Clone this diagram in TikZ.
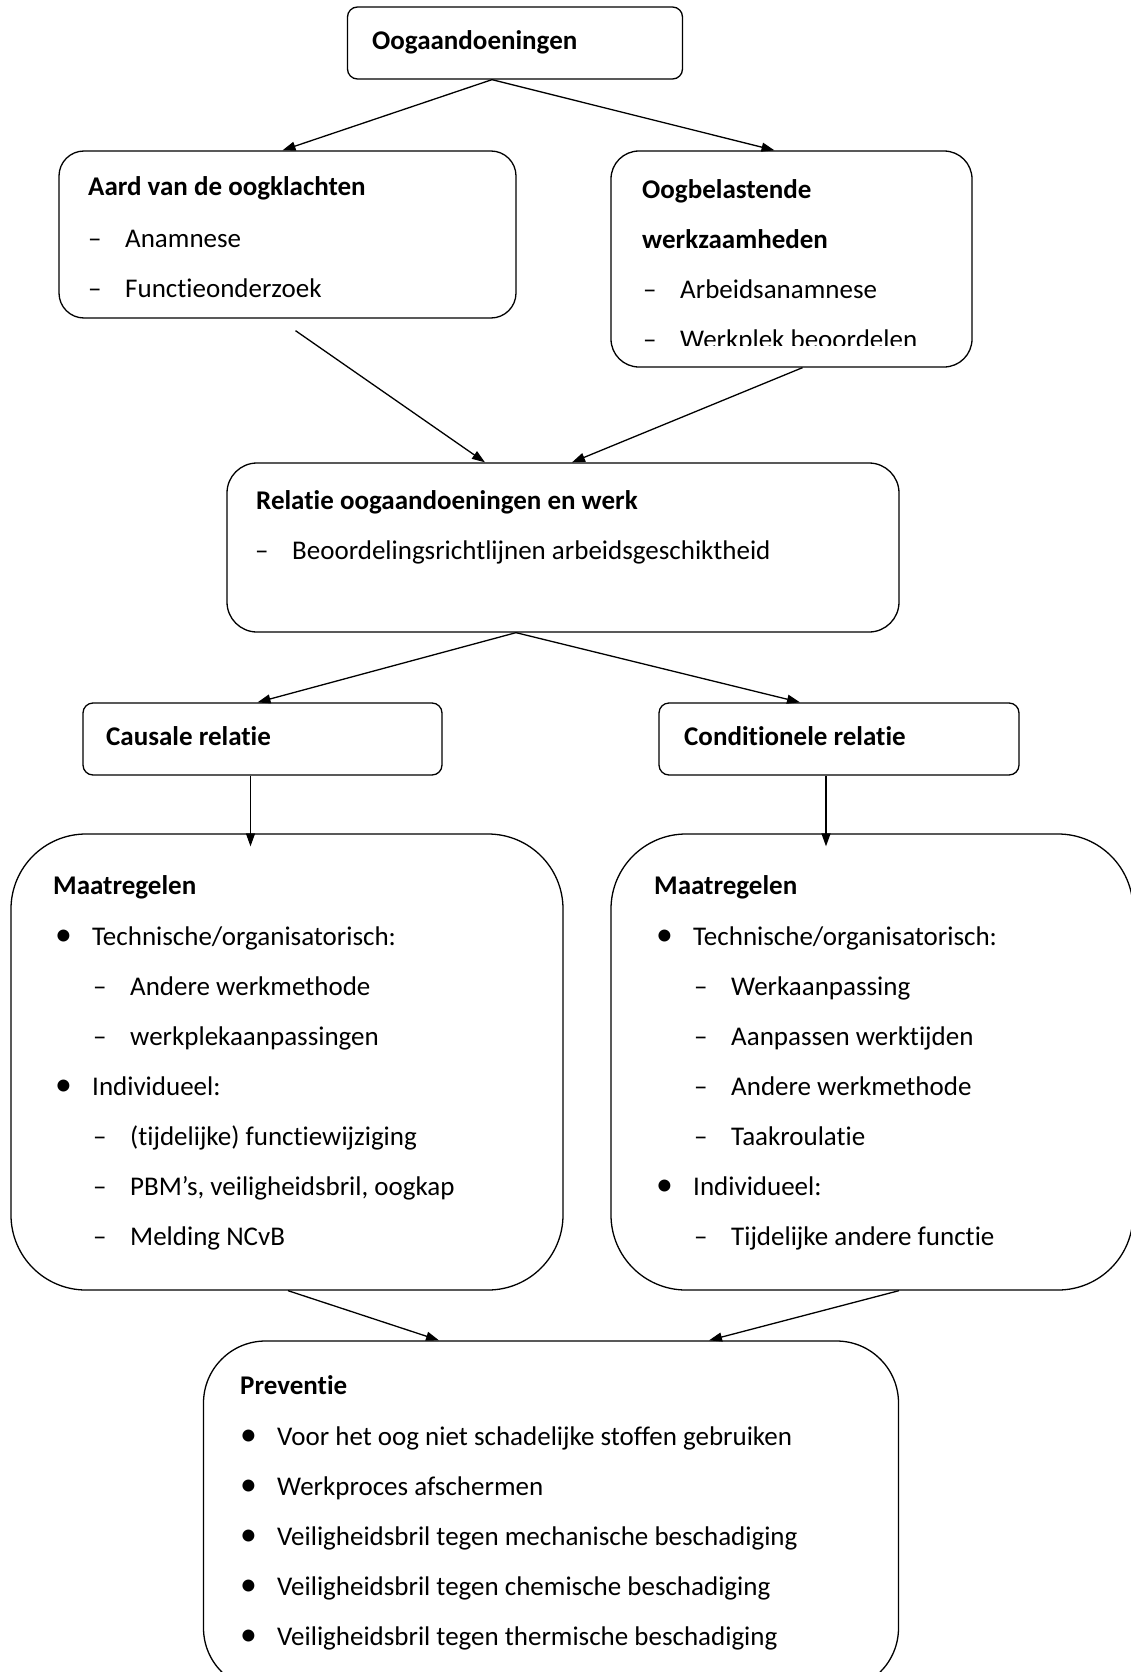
\documentclass[tikz,border=0pt]{standalone}
\usepackage{fontspec}
\setmainfont{Carlito}[Ligatures={NoCommon,NoRare}]
\usepackage{tikz}
\usetikzlibrary{arrows.meta}

\newcommand{\dashit}{\makebox[37pt][l]{–}}
\newcommand{\bulit}{\makebox[37pt][l]{\scalebox{1.25}{\textbullet}}}

\begin{document}
\begin{tikzpicture}[x=1pt,y=1pt]
    \tikzset{box/.style={draw, rounded corners=#1, inner sep=0pt, line width=1.3pt}, box/.default=10pt}
    \tikzset{txt/.style={anchor=base west, inner sep=0pt, font=\fontsize{27}{32}\selectfont}}
    \tikzset{head/.style={txt, font=\fontsize{27}{32}\selectfont\bfseries}}
    \tikzset{pijl/.style={line width=1.3pt, -{Triangle[length=13pt,width=9pt]}}}
    %\tikzset{every node/.style={draw=red}}
    \useasboundingbox (0,0) rectangle (1130,-1672);

    % boxes
    \node[box, minimum width=335pt, minimum height=72pt] (oog) at (515,-43) {};
    \node[box=25pt, minimum width=457pt, minimum height=167pt] (aard) at (287.5,-234.5) {};
    \node[box=28pt, minimum width=361pt, minimum height=216pt] (bel) at (791.5,-259) {};
    \node[box=30pt, minimum width=672pt, minimum height=169pt] (rel) at (563,-547.5) {};
    \node[box, minimum width=359pt, minimum height=72pt] (caus) at (262.5,-739) {};
    \node[box, minimum width=360pt, minimum height=72pt] (cond) at (839,-739) {};
    \node[box=75pt, minimum width=552pt, minimum height=456pt] (maatl) at (287,-1062) {};
    \node[box=75pt, minimum width=522pt, minimum height=456pt] (maatr) at (872,-1062) {};
    \node[box=62pt, minimum width=695pt, minimum height=349pt] (prev) at (551,-1515.5) {};

    % texts
    \node[head] (oogt) at (372,-50) {Oogaandoeningen};

    \node[head] (aardt) at (88,-196) {Aard van de oogklachten};
    \node[txt] (aard1) at (88,-247) {\dashit Anamnese};
    \node[txt] (aard2) at (88,-297) {\dashit Functieonderzoek};

    \node[head] (belt) at (642,-199) {Oogbelastende};
    \node[head] (belt2) at (642,-248) {werkzaamheden};
    \node[txt] (bel1) at (643,-298) {\dashit Arbeidsanamnese};
    \begin{scope}
        \clip (600,-300) rectangle (990,-345);
        \node[txt] (bel2) at (643,-348) {\dashit Werkplek beoordelen};
    \end{scope}

    \node[head] (relt) at (256,-509) {Relatie oogaandoeningen en werk};
    \node[txt] (rel1) at (255,-559) {\dashit Beoordelingsrichtlijnen arbeidsgeschiktheid};

    \node[head] (caust) at (106,-745) {Causale relatie};
    \node[head] (condt) at (684,-745) {Conditionele relatie};

    \node[head] (maatlt) at (53,-894) {Maatregelen};
    \node[txt] (maatl1) at (55,-945) {\bulit Technische/organisatorisch:};
    \node[txt] (maatl2) at (93,-995) {\dashit Andere werkmethode};
    \node[txt] (maatl3) at (93,-1045) {\dashit werkplekaanpassingen};
    \node[txt] (maatl4) at (55,-1095) {\bulit Individueel:};
    \node[txt] (maatl5) at (93,-1145) {\dashit (tijdelijke) functiewijziging};
    \node[txt] (maatl6) at (93,-1195) {\dashit PBM’s, veiligheidsbril, oogkap};
    \node[txt] (maatl7) at (93,-1245) {\dashit Melding NCvB};

    \node[head] (maatrt) at (654,-894) {Maatregelen};
    \node[txt] (maatr1) at (656,-945) {\bulit Technische/organisatorisch:};
    \node[txt] (maatr2) at (694,-995) {\dashit Werkaanpassing};
    \node[txt] (maatr3) at (694,-1045) {\dashit Aanpassen werktijden};
    \node[txt] (maatr4) at (694,-1095) {\dashit Andere werkmethode};
    \node[txt] (maatr5) at (694,-1145) {\dashit Taakroulatie};
    \node[txt] (maatr6) at (656,-1195) {\bulit Individueel:};
    \node[txt] (maatr7) at (694,-1245) {\dashit Tijdelijke andere functie};

    \node[head] (prevt) at (240,-1394) {Preventie};
    \node[txt] (prev1) at (240,-1445) {\bulit Voor het oog niet schadelijke stoffen gebruiken};
    \node[txt] (prev2) at (240,-1495) {\bulit Werkproces afschermen};
    \node[txt] (prev3) at (240,-1545) {\bulit Veiligheidsbril tegen mechanische beschadiging};
    \node[txt] (prev4) at (240,-1595) {\bulit Veiligheidsbril tegen chemische beschadiging};
    \node[txt] (prev5) at (240,-1645) {\bulit Veiligheidsbril tegen thermische beschadiging};

    % arrows
    \draw[pijl] ([xshift=-23pt]oog.south) -- ([xshift=-5pt]aard.north);
    \draw[pijl] ([xshift=-23pt]oog.south) -- ([xshift=-17pt]bel.north);
    \draw[pijl] ([xshift=8pt,yshift=-12pt]aard.south) -- ([xshift=-78pt]rel.north);
    \draw[pijl] ([xshift=11pt]bel.south) -- ([xshift=9pt]rel.north);
    \draw[pijl] ([xshift=-47pt]rel.south) -- ([xshift=-5pt]caus.north);
    \draw[pijl] ([xshift=-47pt]rel.south) -- ([xshift=-39pt]cond.north);
    \draw[pijl] ([xshift=-12pt]caus.south) -- ([xshift=-36.5pt,yshift=-13pt]maatl.north);
    \draw[pijl] ([xshift=-13pt]cond.south) -- ([xshift=-46pt,yshift=-13pt]maatr.north);
    \draw[pijl] ([xshift=1pt]maatl.south) -- ([xshift=-112pt]prev.north);
    \draw[pijl] ([xshift=27pt]maatr.south) -- ([xshift=158pt]prev.north);
\end{tikzpicture}
\end{document}
